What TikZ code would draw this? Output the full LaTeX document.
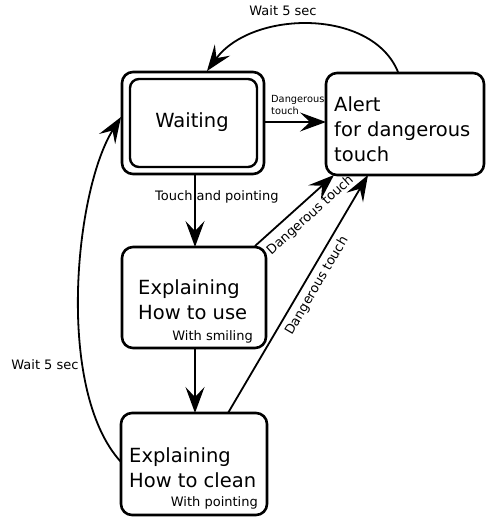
\documentclass[tikz,border=0pt]{standalone}
\usepackage{fontspec}
\setmainfont{DejaVu Sans}
\usetikzlibrary{arrows.meta}
\begin{document}
\begin{tikzpicture}[x=1pt,y=-1pt,
  box/.style={draw, line width=2.6pt, rounded corners=11pt, inner sep=0pt},
  big/.style={font=\fontsize{19.5}{25}\selectfont, inner sep=0pt, align=left},
  small/.style={font=\fontsize{13}{15}\selectfont, inner sep=0pt},
  tiny/.style={font=\fontsize{9.8}{11.5}\selectfont, inner sep=0pt, align=left},
  arr/.style={line width=1.8pt, -{Stealth[length=26pt,width=19pt,inset=10pt]}}]
\useasboundingbox (0,0) rectangle (487,517);
% boxes
\node[box, minimum width=142pt, minimum height=102pt] (waiting) at (193,123) {};
\node[box, line width=2.4pt, rounded corners=9pt, minimum width=127pt, minimum height=88pt] (waitin) at (193.5,123) {};
\node[big] (waitingt) at (192,122) {Waiting};
\node[box, minimum width=158pt, minimum height=102pt] (alert) at (405,124) {};
\node[big, anchor=west] (alertt) at (334,129) {Alert\\for dangerous\\touch};
\node[box, minimum width=144pt, minimum height=101pt] (use) at (194,297.5) {};
\node[big, anchor=west] (uset) at (138,299.5) {Explaining\\How to use};
\node[small, anchor=east] (uses) at (253,337) {With smiling};
\node[box, minimum width=146pt, minimum height=102pt] (clean) at (194,464) {};
\node[big, anchor=west] (cleant) at (129,467.5) {Explaining\\How to clean};
\node[small, anchor=east] (cleans) at (258,503) {With pointing};
% connectors
\coordinate (w1) at (195,174);
\coordinate (u1) at (195,247);
\draw[arr] (w1) -- (u1);
\node[small, anchor=west] (tp) at (155,197) {Touch and pointing};
\coordinate (u2) at (195,348);
\coordinate (c1) at (195,413);
\draw[arr] (u2) -- (c1);
\coordinate (w2) at (264,122);
\coordinate (a1) at (326,122);
\draw[arr] (w2) -- (a1);
\node[tiny, anchor=west] (dt) at (271,105) {Dangerous\\touch};
\coordinate (a2) at (398,72);
\coordinate (w3) at (207,71);
\draw[arr] (a2) .. controls (372,8) and (252,10) .. (w3);
\node[small] (wt1) at (283,11) {Wait 5 sec};
\coordinate (u3) at (255,246);
\coordinate (a3) at (334,175);
\draw[arr] (u3) -- (a3) node[pos=0.58, sloped, below=7pt, small] {Dangerous touch};
\coordinate (c2) at (228,413);
\coordinate (a4) at (368,175);
\draw[arr] (c2) -- (a4) node[pos=0.56, sloped, below=5pt, small] {Dangerous touch};
\coordinate (c3) at (121,462);
\coordinate (w4) at (121,117);
\draw[arr] (c3) .. controls (55,390) and (75,190) .. (w4);
\node[small] (wt2) at (45,365) {Wait 5 sec};
\end{tikzpicture}
\end{document}
